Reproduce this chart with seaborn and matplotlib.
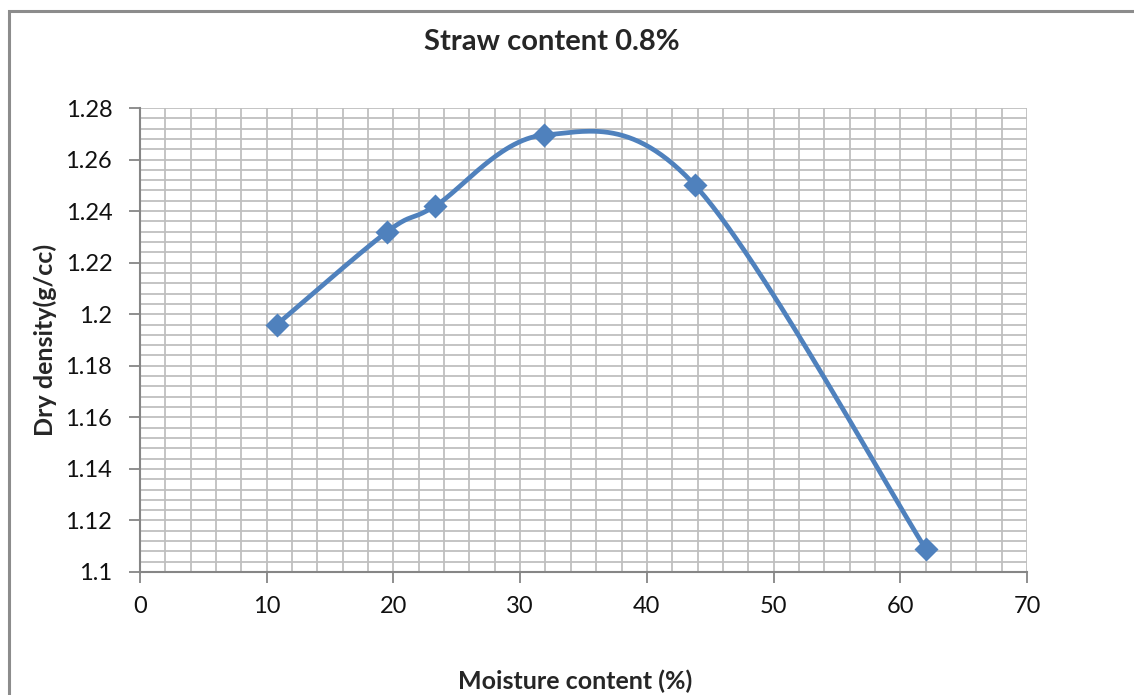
import numpy as np
import pandas as pd
import matplotlib
matplotlib.use("Agg")
import matplotlib.pyplot as plt
from matplotlib.ticker import MultipleLocator, FuncFormatter
from matplotlib.patches import Rectangle
import seaborn as sns

# ---- data ----
moisture = [10.8, 19.5, 23.3, 31.9, 43.8, 62.0]
density = [1.196, 1.232, 1.242, 1.2695, 1.250, 1.109]
title = "Straw content 0.8%"
xlabel = "Moisture content (%)"
ylabel = "Dry density(g/cc)"

sns.set_theme(style="white")
plt.rcParams['font.family'] = ['Lato', 'DejaVu Sans']

BLUE = "#4F81BD"
GRID = "#BFBFBF"
AX = "#868686"
W, H = 1134, 695


def smooth(xs, ys, n=60):
    P = np.column_stack([xs, ys]).astype(float)
    ext = np.vstack([P[0], P, P[-1]])
    out = []
    t = np.linspace(0, 1, n)[:, None]
    for i in range(len(P) - 1):
        p0, p3 = ext[i + 1], ext[i + 2]
        b1 = p0 + (ext[i + 2] - ext[i]) / 6.0
        b2 = p3 - (ext[i + 3] - ext[i + 1]) / 6.0
        seg = ((1 - t) ** 3) * p0 + 3 * ((1 - t) ** 2) * t * b1 + 3 * (1 - t) * t ** 2 * b2 + t ** 3 * p3
        out.append(seg if i == 0 else seg[1:])
    arr = np.vstack(out)
    return arr[:, 0], arr[:, 1]


sx, sy = smooth(moisture, density)
curve = pd.DataFrame({"x": sx, "y": sy})
pts = pd.DataFrame({"x": moisture, "y": density})

fig = plt.figure(figsize=(W / 100, H / 100), dpi=100)
ax = fig.add_axes([140 / W, 1 - 572 / H, (1027 - 140) / W, (572 - 108) / H])

ax.set_xlim(0, 70)
ax.set_ylim(1.1, 1.28)
ax.xaxis.set_major_locator(MultipleLocator(10))
ax.xaxis.set_minor_locator(MultipleLocator(2))
ax.yaxis.set_major_locator(MultipleLocator(0.02))
ax.yaxis.set_minor_locator(MultipleLocator(0.004))
ax.grid(True, which="both", color=GRID, linewidth=1.3)
ax.set_axisbelow(True)
ax.tick_params(which="minor", length=0)
ax.tick_params(which="major", axis="x", direction="out", length=8, width=1.3, color=AX,
               labelsize=17, pad=9, bottom=True, labelcolor="#111111")
ax.tick_params(which="major", axis="y", direction="out", length=8, width=1.3, color=AX,
               labelsize=17, pad=12, left=True, labelcolor="#111111")
ax.yaxis.set_major_formatter(FuncFormatter(lambda v, p: f"{round(v, 4):g}"))

sns.lineplot(data=curve, x="x", y="y", ax=ax, color=BLUE, linewidth=3.4, sort=False,
             estimator=None, zorder=3)
sns.scatterplot(data=pts, x="x", y="y", ax=ax, marker="D", s=150, color=BLUE,
                edgecolor=BLUE, linewidth=0, zorder=4)

for s in ["top", "right"]:
    ax.spines[s].set_visible(False)
for s in ["left", "bottom"]:
    ax.spines[s].set_color(AX)
    ax.spines[s].set_linewidth(1.5)

ax.set_xlabel("")
ax.set_ylabel("")
fig.text(575 / W, 1 - 681 / H, xlabel, ha="center", va="center", fontsize=18,
         fontweight="bold")
fig.text(45 / W, 1 - 340 / H, ylabel, ha="center", va="center", fontsize=18,
         fontweight="bold", rotation=90)
fig.text(552 / W, 1 - 42 / H, title, ha="center", va="center", fontsize=21,
         fontweight="bold")

fig.patches.append(Rectangle((9 / W, -0.05), 1.2, 1 - 11 / H + 0.05,
                             transform=fig.transFigure, fill=False,
                             edgecolor="#8C8C8C", linewidth=2.2))

fig.savefig("out.png", dpi=100)
